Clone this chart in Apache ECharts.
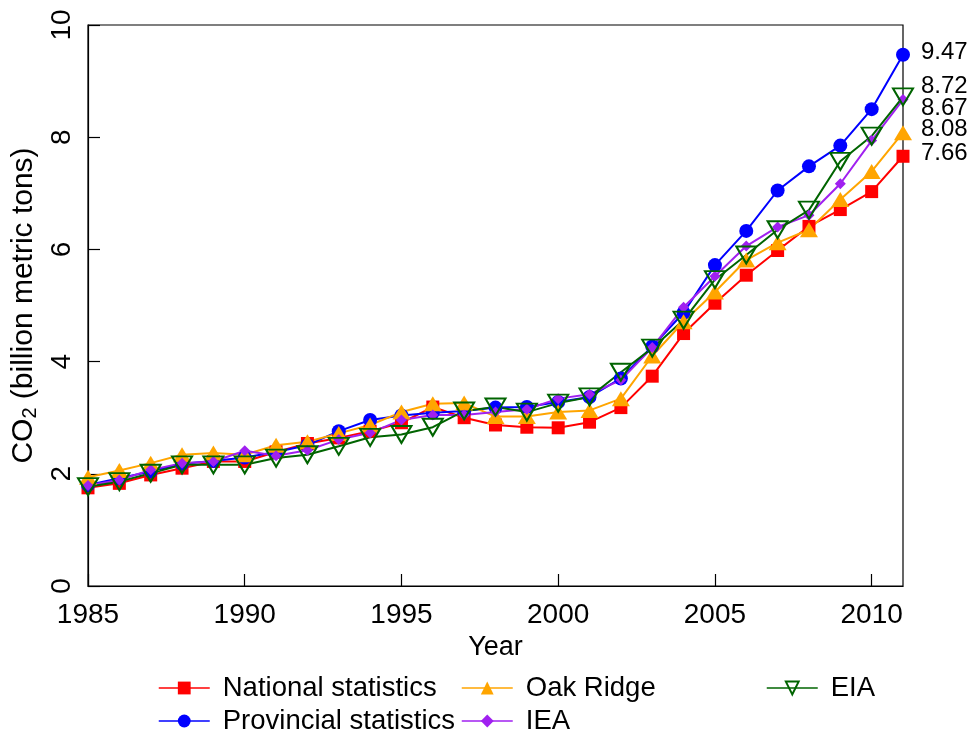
<!DOCTYPE html>
<html>
<head>
<meta charset="utf-8">
<script src="https://cdn.jsdelivr.net/npm/echarts@6/dist/echarts.min.js"></script>
<style>html,body{margin:0;padding:0;background:#fff;}#c{width:977px;height:738px;}</style>
</head>
<body>
<div id="c"></div>
<script>
const years = [1985,1986,1987,1988,1989,1990,1991,1992,1993,1994,1995,1996,1997,1998,1999,2000,2001,2002,2003,2004,2005,2006,2007,2008,2009,2010,2011];
const seriesNames = ['National statistics','Provincial statistics','Oak Ridge','IEA','EIA'];
const national   = [1.75,1.83,1.98,2.10,2.22,2.22,2.39,2.54,2.64,2.76,2.91,3.19,3.00,2.87,2.83,2.82,2.92,3.18,3.74,4.50,5.04,5.54,5.98,6.41,6.71,7.03,7.66];
const provincial = [1.80,1.92,2.04,2.18,2.23,2.29,2.39,2.51,2.76,2.96,3.04,3.09,3.12,3.18,3.19,3.28,3.37,3.70,4.27,4.87,5.72,6.33,7.05,7.48,7.85,8.50,9.47];
const oakRidge   = [1.94,2.06,2.19,2.34,2.37,2.34,2.51,2.57,2.72,2.87,3.10,3.25,3.26,3.02,3.02,3.10,3.13,3.34,4.10,4.71,5.24,5.81,6.12,6.35,6.89,7.39,8.08];
const iea        = [1.79,1.89,2.07,2.19,2.22,2.41,2.32,2.42,2.61,2.73,2.96,3.05,3.05,3.10,3.15,3.34,3.42,3.67,4.25,4.97,5.52,6.06,6.40,6.61,7.17,7.94,8.67];
const eia        = [1.77,1.86,2.01,2.16,2.16,2.16,2.28,2.34,2.49,2.65,2.70,2.83,3.12,3.19,3.10,3.26,3.37,3.81,4.24,4.74,5.46,5.90,6.35,6.70,7.57,8.02,8.72];
const yTicks = [0,2,4,6,8,10];
const xTicks = [1985,1990,1995,2000,2005,2010];

const FONT = "'Liberation Sans', Arial, Helvetica, sans-serif";
const styles = [
  {color:'#ff0000', symbol:'rect', size:13, rotate:0, labelDy:-3},
  {color:'#0000ff', symbol:'circle', size:14, rotate:0, labelDy:-2},
  {color:'#ffa500', symbol:'triangle', size:[18,15], rotate:0, labelDy:-3},
  {color:'#a020f0', symbol:'diamond', size:11, rotate:0, labelDy:9},
  {color:'#006400', symbol:'triangle', size:[20,17], rotate:180, labelDy:-10, hollow:true}
];
const allValues = [national, provincial, oakRidge, iea, eia];

const series = allValues.map((vals, k) => {
  const st = styles[k];
  return {
    name: seriesNames[k],
    type: 'line',
    data: years.map((y, i) => [y, vals[i]]),
    symbol: st.symbol,
    symbolSize: st.size,
    symbolRotate: st.rotate,
    showAllSymbol: true,
    lineStyle: {color: st.color, width: 2},
    itemStyle: st.hollow
      ? {color: 'rgba(0,0,0,0)', borderColor: st.color, borderWidth: 2}
      : {color: st.color},
    emphasis: {disabled: true},
    animation: false,
    endLabel: {
      show: true,
      formatter: p => p.value[1].toFixed(2),
      color: '#000',
      fontSize: 24,
      fontFamily: FONT,
      distance: 18,
      offset: [0, st.labelDy]
    }
  };
});

const legendBase = {
  orient: 'vertical',
  itemWidth: 51,
  itemHeight: 16,
  itemGap: 5,
  top: 674,
  height: 64,
  padding: 0,
  selectedMode: false,
  lineStyle: {width: 1.5},
  textStyle: {fontSize: 27.5, fontFamily: FONT, color: '#000', lineHeight: 28, padding: [0,0,0,8]}
};

const chart = echarts.init(document.getElementById('c'), null, {renderer: 'canvas'});
chart.setOption({
  backgroundColor: '#fff',
  animation: false,
  textStyle: {fontFamily: FONT},
  grid: {left: 88, right: 74, top: 25, bottom: 152, show: true, borderColor: '#000', borderWidth: 1.2, backgroundColor: 'transparent'},
  legend: [
    Object.assign({}, legendBase, {left: 158, data: [seriesNames[0], seriesNames[1]]}),
    Object.assign({}, legendBase, {left: 461, data: [seriesNames[2], seriesNames[3]]}),
    Object.assign({}, legendBase, {left: 766, data: [seriesNames[4]]})
  ],
  xAxis: {
    type: 'value',
    min: 1985, max: 2011, interval: 5,
    name: 'Year',
    nameLocation: 'middle',
    nameGap: 40,
    nameTextStyle: {fontSize: 27, color: '#000', fontFamily: FONT},
    axisLine: {show: true, lineStyle: {color: '#000', width: 1.2}},
    axisTick: {show: true, inside: true, length: 12, lineStyle: {color: '#000', width: 1.2}},
    axisLabel: {
      fontSize: 28, color: '#000', margin: 15, fontFamily: FONT,
      showMaxLabel: false,
      formatter: v => xTicks.indexOf(v) >= 0 ? String(v) : ''
    },
    splitLine: {show: false}
  },
  yAxis: {
    type: 'value',
    min: 0, max: 10, interval: 2,
    name: '{a|CO}{s|2}{a| (billion metric tons)}',
    nameLocation: 'middle',
    nameGap: 44,
    nameRotate: 90,
    nameTextStyle: {
      color: '#000',
      rich: {
        a: {fontSize: 30, fontFamily: FONT, color: '#000', lineHeight: 32},
        s: {fontSize: 20, fontFamily: FONT, color: '#000', lineHeight: 20, verticalAlign: 'bottom'}
      }
    },
    axisLine: {show: true, lineStyle: {color: '#000', width: 1.2}},
    axisTick: {show: true, inside: true, length: 12, lineStyle: {color: '#000', width: 1.2}},
    axisLabel: {
      fontSize: 28, color: '#000', margin: 12, rotate: 90, fontFamily: FONT,
      formatter: v => yTicks.indexOf(v) >= 0 ? String(v) : ''
    },
    splitLine: {show: false}
  },
  series: series
});
</script>
</body>
</html>
